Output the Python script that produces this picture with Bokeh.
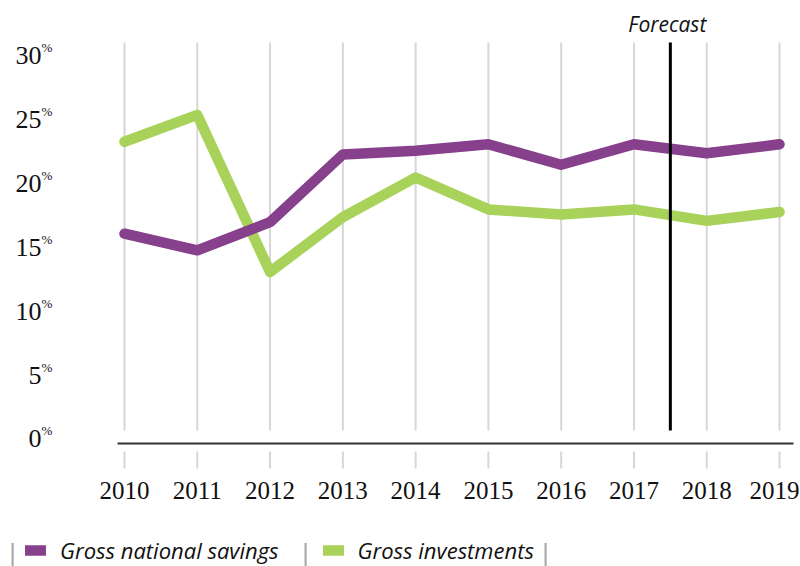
from bokeh.plotting import figure
from bokeh.models import (Range1d, Legend, LegendItem, Label)
from bokeh.core.properties import value
from bokeh.embed import file_html
from bokeh.resources import INLINE

# ---- data ----
years = [2010, 2011, 2012, 2013, 2014, 2015, 2016, 2017, 2018, 2019]
year_labels = [str(y) for y in years]
savings = [16.0, 14.7, 16.9, 22.2, 22.5, 23.0, 21.4, 23.0, 22.3, 23.0]
investments = [23.2, 25.3, 13.0, 17.3, 20.4, 17.9, 17.5, 17.9, 17.0, 17.7]
series_names = ["Gross national savings", "Gross investments"]
y_ticks = [0, 5, 10, 15, 20, 25, 30]
y_tick_labels = ["0", "5", "10", "15", "20", "25", "30"]
forecast_year = 2017.5
forecast_label = "Forecast"

# ---- style ----
PURPLE = "#86408c"
GREEN = "#a9d25a"
GRID = "#d6d6d6"
INK = "#111111"
SERIF = "Liberation Serif"
SANS_IT = "Open Sans"

# view ranges (whole canvas is the plotting frame)
X0, X1 = 2008.2962, 2019.2883
Y0, Y1 = -10.063, 34.260
GRID_TOP, GRID_GAP_HI, GRID_GAP_LO, GRID_BOTTOM = 30.97, 0.59, -1.06, -2.39
BASE_Y = -0.43
BASE_X0, BASE_X1 = 2009.904, 2019.192
YLAB_X = 2008.860
XLAB_Y = -4.13
FORECAST_LABEL_Y = 32.41

p = figure(width=800, height=566, x_range=Range1d(X0, X1), y_range=Range1d(Y0, Y1),
           output_backend="svg", toolbar_location=None,
           x_axis_location=None, y_axis_location=None, min_border=0)
p.outline_line_color = None
p.background_fill_color = "white"
p.border_fill_color = "white"
p.xgrid.visible = False
p.ygrid.visible = False

n = len(years)
# vertical grid lines at each year (interrupted around the base line)
p.segment(x0=years, y0=[GRID_GAP_HI] * n, x1=years, y1=[GRID_TOP] * n,
          line_color=GRID, line_width=2)
p.segment(x0=years, y0=[GRID_BOTTOM] * n, x1=years, y1=[GRID_GAP_LO] * n,
          line_color=GRID, line_width=2)

# base line
p.segment(x0=[BASE_X0], y0=[BASE_Y], x1=[BASE_X1], y1=[BASE_Y],
          line_color="#333333", line_width=2)

# y tick labels with superscript percent
m = len(y_ticks)
p.text(x=[YLAB_X] * m, y=y_ticks, text=y_tick_labels,
       text_align="right", text_baseline="alphabetic", y_offset=1,
       text_font=value(SERIF), text_font_size=value("26px"), text_color=INK)
p.text(x=[YLAB_X] * m, y=y_ticks, text=["%"] * m,
       text_align="left", text_baseline="alphabetic", x_offset=0, y_offset=-7,
       text_font=value(SERIF), text_font_size=value("13px"), text_color=INK)

# x tick labels (last one nudged to stay inside the edge)
p.text(x=years, y=[XLAB_Y] * n, text=year_labels,
       x_offset=[0] * (n - 1) + [-5],
       text_align="center", text_baseline="alphabetic",
       text_font=value(SERIF), text_font_size=value("25px"), text_color=INK)

# lines
r_inv = p.line(years, investments, line_width=10.5, line_color=GREEN,
               line_cap="round", line_join="round")
r_sav = p.line(years, savings, line_width=10.5, line_color=PURPLE,
               line_cap="round", line_join="round")

# forecast marker
p.segment(x0=[forecast_year], y0=[GRID_GAP_HI], x1=[forecast_year], y1=[GRID_TOP],
          line_color="black", line_width=3)
p.text(x=[forecast_year], y=[FORECAST_LABEL_Y], text=[forecast_label], x_offset=-3,
       text_align="center", text_baseline="alphabetic",
       text_font=value(SANS_IT), text_font_style="italic",
       text_font_size=value("21px"), text_color=INK)

# legend
legend = Legend(items=[LegendItem(label=series_names[0], renderers=[r_sav]),
                       LegendItem(label=series_names[1], renderers=[r_inv])],
                orientation="horizontal", location=(25, 1),
                border_line_color=None, background_fill_alpha=0,
                padding=0, margin=0, spacing=44, label_standoff=14,
                glyph_width=21, glyph_height=20, label_height=20,
                label_text_font=SANS_IT, label_text_font_style="italic",
                label_text_font_size="22px", label_text_color=INK)
p.add_layout(legend)

for sx in [12, 305, 545]:
    p.add_layout(Label(x=sx, y=13, x_units="screen", y_units="screen", text="|",
                       text_align="center", text_baseline="middle",
                       text_font="DejaVu Sans", text_font_size="24px",
                       text_color="#a8a8a8"))

open("out.html", "w").write(file_html(p, INLINE))
